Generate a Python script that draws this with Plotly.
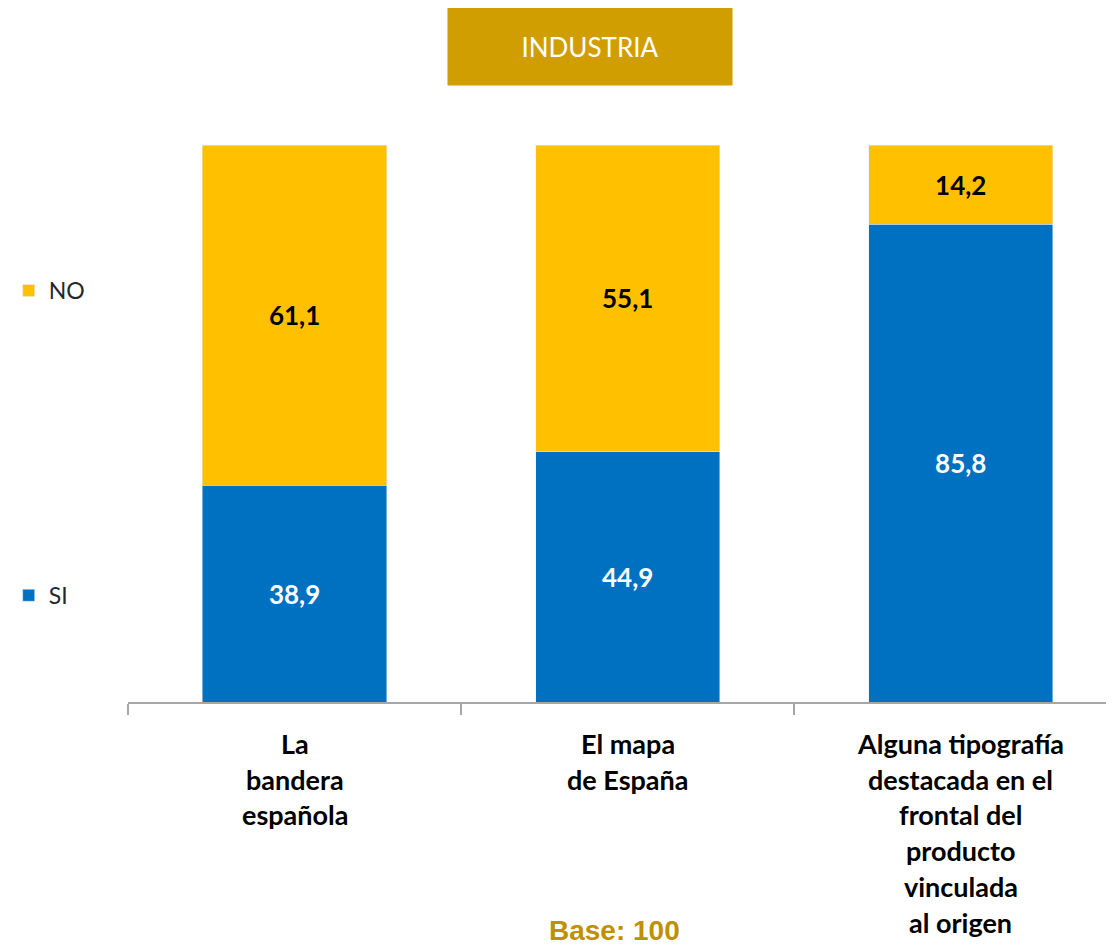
import plotly.graph_objects as go

# chart data
categories = ["La bandera española", "El mapa de España",
              "Alguna tipografía destacada en el frontal del producto vinculada al origen"]
label_lines = [
    ["La", "bandera", "española"],
    ["El mapa", "de España"],
    ["Alguna tipografía", "destacada en el", "frontal del", "producto", "vinculada", "al origen"],
]
si_values = [38.9, 44.9, 85.8]
no_values = [61.1, 55.1, 14.2]

BLUE = "#0070C0"
YELLOW = "#FFC000"
GOLD = "#D09E00"
FONT = "Lato"

x_pos = list(range(len(categories)))

fig = go.Figure()
fig.add_trace(go.Bar(
    x=x_pos, y=si_values, name="SI", marker_color=BLUE, width=0.553,
    text=si_values, texttemplate="%{y:.1f}", textposition="inside",
    insidetextanchor="middle",
    textfont={"family": FONT, "size": 26, "color": "white", "weight": "bold"},
    legendgroup="si", legendrank=2,
))
fig.add_trace(go.Bar(
    x=x_pos, y=no_values, name="NO", marker_color=YELLOW, width=0.553,
    text=no_values, texttemplate="%{y:.1f}", textposition="inside",
    insidetextanchor="middle",
    textfont={"family": FONT, "size": 26, "color": "black", "weight": "bold"},
    legendgroup="no", legendrank=1,
))

# category labels, one line each so the spacing matches the original
for i, lines in enumerate(label_lines):
    for j, line in enumerate(lines):
        fig.add_annotation(
            text=line, xref="x", x=i, yref="paper", y=0, yanchor="top",
            yshift=-(23 + j * 35.7), showarrow=False,
            font={"family": FONT, "size": 27, "color": "black", "weight": "bold"},
        )

# title box
fig.add_annotation(
    text="INDUSTRIA", xref="paper", yref="paper", x=0.4686, y=1.1769,
    xanchor="center", yanchor="middle", showarrow=False,
    bgcolor=GOLD, width=282, height=75,
    font={"family": FONT, "size": 26, "color": "white"},
)

fig.add_annotation(
    text="<b>Base: 100</b>", xref="paper", yref="paper", x=0.493, y=-0.41,
    xanchor="center", yanchor="middle", showarrow=False,
    font={"family": "Liberation Sans", "size": 28, "color": "#BF9000"},
)

fig.update_layout(
    barmode="stack",
    width=1106,
    height=937,
    autosize=False,
    plot_bgcolor="white",
    paper_bgcolor="white",
    separators=",.",
    margin={"l": 120, "r": 0, "t": 137, "b": 243},
    showlegend=True,
    legend={
        "x": -0.121, "xanchor": "left", "y": 0.7775, "yanchor": "top",
        "traceorder": "grouped", "tracegroupgap": 272,
        "font": {"family": FONT, "size": 23, "color": "#262626"},
        "bgcolor": "rgba(0,0,0,0)",
    },
    xaxis={
        "range": [-0.5, 2.46], "showline": True, "linecolor": "#A6A6A6",
        "linewidth": 1.5, "ticks": "outside", "ticklen": 11,
        "tickcolor": "#A6A6A6", "tickwidth": 1.5,
        "tickvals": [-0.5, 0.5, 1.5],
        "showticklabels": False, "showgrid": False, "zeroline": False,
    },
    yaxis={"range": [0, 100], "visible": False},
)

fig.write_html("out.html")
